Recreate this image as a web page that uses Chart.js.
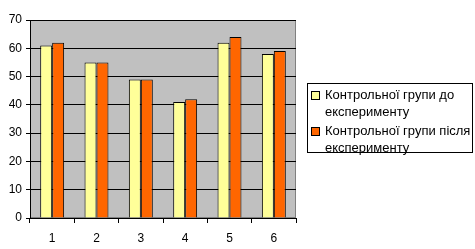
<!DOCTYPE html>
<html>
<head>
<meta charset="utf-8">
<script src="https://cdn.jsdelivr.net/npm/chart.js@4"></script>
<style>
    body { margin: 0; background: #fff; }
    #wrap { position: relative; width: 475px; height: 249px; }
    #legend {
        position: absolute; left: 307px; top: 83px; width: 164px; height: 68px;
        border: 1px solid #000; background: #fff;
        font-family: "Liberation Sans", Arial, sans-serif; font-size: 13px; line-height: 17px; color: #000;
    }
    .item { position: relative; padding-left: 17px; margin-top: 2px; }
    .swatch { position: absolute; left: 3px; top: 5px; width: 7px; height: 7px; border: 1px solid #000; }
</style>
</head>
<body>
<div id="wrap">
    <canvas id="chart" width="475" height="249"></canvas>
    <div id="legend"></div>
</div>
<script>
// Data
const categories = ['1', '2', '3', '4', '5', '6'];
const seriesNames = ['Контрольної групи до експерименту', 'Контрольної групи після експерименту'];
const beforeValues = [61, 55, 49, 41, 62, 58];
const afterValues = [62, 55, 49, 42, 64, 59];
const colors = ['#FFFF99', '#FF6600'];

// gray plot background + frame
const plotBg = {
    id: 'plotBg',
    beforeDraw(chart) {
        const { ctx, chartArea: a } = chart;
        ctx.save();
        ctx.fillStyle = '#C0C0C0';
        ctx.fillRect(a.left, a.top, a.right - a.left, a.bottom - a.top);
        ctx.strokeStyle = '#808080';
        ctx.lineWidth = 1;
        ctx.strokeRect(a.left + 0.5, a.top + 0.5, a.right - a.left - 1, a.bottom - a.top - 1);
        ctx.restore();
    }
};

const ctx = document.getElementById('chart').getContext('2d');
new Chart(ctx, {
    type: 'bar',
    data: {
        labels: categories,
        datasets: [
            { label: seriesNames[0], data: beforeValues, backgroundColor: colors[0], borderColor: '#000', borderWidth: 1 },
            { label: seriesNames[1], data: afterValues, backgroundColor: colors[1], borderColor: '#000', borderWidth: 1 }
        ]
    },
    options: {
        responsive: false,
        animation: false,
        categoryPercentage: 0.54,
        barPercentage: 1,
        layout: { padding: { left: 0, right: 179, top: 20, bottom: 0 } },
        plugins: { legend: { display: false }, tooltip: { enabled: false } },
        scales: {
            x: {
                afterFit: s => { s.height = 31; },
                grid: { drawOnChartArea: false, drawTicks: true, tickLength: 5, color: '#000', offset: true },
                border: { color: '#000' },
                ticks: { color: '#000', padding: 8, font: { family: 'Liberation Sans', size: 12 } }
            },
            y: {
                min: 0, max: 70,
                afterFit: s => { s.width = 30; },
                grid: { color: '#000', tickLength: 4 },
                border: { color: '#000' },
                ticks: { stepSize: 10, color: '#000', padding: 4, font: { family: 'Liberation Sans', size: 12 } }
            }
        }
    },
    plugins: [plotBg]
});

// HTML legend
const legend = document.getElementById('legend');
seriesNames.forEach((name, i) => {
    const div = document.createElement('div');
    div.className = 'item';
    const sw = document.createElement('span');
    sw.className = 'swatch';
    sw.style.background = colors[i];
    div.appendChild(sw);
    div.appendChild(document.createTextNode(name));
    legend.appendChild(div);
});
</script>
</body>
</html>
